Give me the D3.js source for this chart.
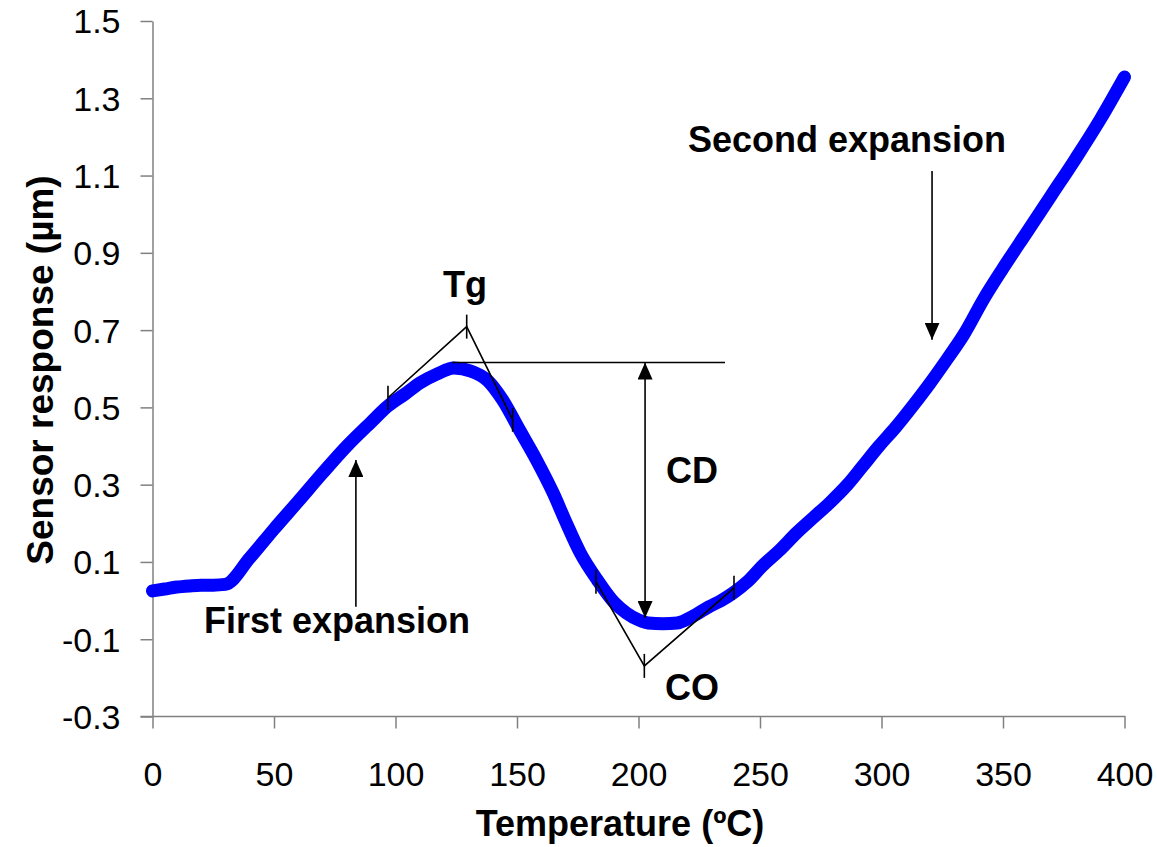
<!DOCTYPE html>
<html lang="en">
<head>
<meta charset="UTF-8">
<title>Sensor response vs temperature</title>
<script src="https://d3js.org/d3.v7.min.js"></script>
<style>
  body { margin: 0; background: #fff; }
  svg text { font-family: "Liberation Sans", Arial, sans-serif; }
</style>
</head>
<body>
<svg id="chart" width="1157" height="847"></svg>
<script>
// temperature (ºC) and sensor response (µm)
var temps = [0, 5, 10, 15, 20, 25, 30, 40, 50, 60, 70, 80, 90, 97, 104, 110, 117, 124,
             131, 138, 144, 151, 158, 165, 170, 176, 183, 190, 195, 200, 204, 210, 216,
             222, 229, 234, 239, 245, 251, 258, 265, 272, 279, 286, 292, 299, 306, 313,
             320, 327, 334, 342, 350, 360, 370, 380, 390, 400];
var response = [0.025, 0.03, 0.035, 0.038, 0.04, 0.04, 0.042, 0.11, 0.185, 0.257, 0.33, 0.40,
                0.462, 0.504, 0.535, 0.563, 0.586, 0.602, 0.594, 0.569, 0.52, 0.442, 0.364,
                0.277, 0.205, 0.124, 0.054, -0.005, -0.032, -0.05, -0.058, -0.06, -0.058,
                -0.042, -0.016, 0.0, 0.02, 0.05, 0.09, 0.13, 0.175, 0.215, 0.255, 0.30,
                0.346, 0.40, 0.45, 0.505, 0.563, 0.625, 0.69, 0.78, 0.86, 0.955, 1.05,
                1.145, 1.245, 1.355];

var xTicks = [0, 50, 100, 150, 200, 250, 300, 350, 400];
var yTicks = [-0.3, -0.1, 0.1, 0.3, 0.5, 0.7, 0.9, 1.1, 1.3, 1.5];
var yTickLabels = ["-0.3", "-0.1", "0.1", "0.3", "0.5", "0.7", "0.9", "1.1", "1.3", "1.5"];

// annotations, in data units
var tgLine = [[96.9, 0.525], [129.3, 0.709], [148.2, 0.468]];
var coLine = [[182.5, 0.049], [202.4, -0.169], [239.3, 0.033]];
var cdTop = [[123.3, 0.616], [235.6, 0.616]];
var cdArrow = [202.7, 0.616, -0.045];          // x, y1, y2
var firstArrow = [83.7, -0.016, 0.364];        // x, from, to
var secondArrow = [320.8, 1.112, 0.675];
var labels = [
    { text: "Tg", x: 128.6, y: 0.786 },
    { text: "CD", x: 222, y: 0.305 },
    { text: "CO", x: 222, y: -0.257 },
    { text: "First expansion", x: 75.9, y: -0.083 },
    { text: "Second expansion", x: 285.8, y: 1.161 }
];

var svg = d3.select("#chart");

var x = d3.scaleLinear().domain([0, 400]).range([152.5, 1124.5]);
var y = d3.scaleLinear().domain([-0.3, 1.5]).range([716.5, 21]);

// arrow head
svg.append("defs").append("marker")
    .attr("id", "head")
    .attr("viewBox", "0 -7.5 17 15")
    .attr("refX", 17)
    .attr("refY", 0)
    .attr("markerWidth", 17)
    .attr("markerHeight", 15)
    .attr("markerUnits", "userSpaceOnUse")
    .attr("orient", "auto-start-reverse")
    .append("path")
    .attr("d", "M0,-7.5L17,0L0,7.5Z")
    .attr("fill", "#000");

// axes
var xAxis = svg.append("g")
    .attr("transform", "translate(0," + y(-0.3) + ")")
    .call(d3.axisBottom(x).tickValues(xTicks).tickSize(12).tickSizeOuter(0));
xAxis.selectAll("text")
    .attr("y", 69).attr("dy", null)
    .attr("font-size", "34px").attr("fill", "#000");

var yAxis = svg.append("g")
    .attr("transform", "translate(" + x(0) + ",0)")
    .call(d3.axisLeft(y).tickValues(yTicks).tickSize(12).tickSizeOuter(0)
        .tickFormat(function(d, i) { return yTickLabels[i]; }));
yAxis.selectAll("text")
    .attr("x", -32).attr("dy", "0.35em")
    .attr("font-size", "34px").attr("fill", "#000");

svg.selectAll(".domain, .tick line")
    .attr("stroke", "#808080").attr("stroke-width", 1.5);
// x axis line runs under the left ticks too
xAxis.select(".domain").attr("d", "M" + (x(0) - 12) + ",0H" + (x(400) + 1));

// the curve
var pts = temps.map(function(t, i) { return [t, response[i]]; });
svg.append("path")
    .datum(pts)
    .attr("fill", "none")
    .attr("stroke", "#0000ff")
    .attr("stroke-width", 13)
    .attr("stroke-linecap", "round")
    .attr("stroke-linejoin", "round")
    .attr("d", d3.line().x(function(d) { return x(d[0]); }).y(function(d) { return y(d[1]); })
        .curve(d3.curveMonotoneX));

var ann = svg.append("g").attr("stroke", "#000").attr("stroke-width", 1.6).attr("fill", "none");
var poly = d3.line().x(function(d) { return x(d[0]); }).y(function(d) { return y(d[1]); });

[tgLine, coLine].forEach(function(l) {
    ann.append("path").attr("d", poly(l));
    l.forEach(function(p) {
        ann.append("line")
            .attr("x1", x(p[0])).attr("x2", x(p[0]))
            .attr("y1", y(p[1]) - 12).attr("y2", y(p[1]) + 12);
    });
});

ann.append("path").attr("d", poly(cdTop));
ann.append("line")
    .attr("x1", x(cdArrow[0])).attr("x2", x(cdArrow[0]))
    .attr("y1", y(cdArrow[1])).attr("y2", y(cdArrow[2]))
    .attr("marker-start", "url(#head)")
    .attr("marker-end", "url(#head)");

[firstArrow, secondArrow].forEach(function(a) {
    ann.append("line")
        .attr("x1", x(a[0])).attr("x2", x(a[0]))
        .attr("y1", y(a[1])).attr("y2", y(a[2]))
        .attr("marker-end", "url(#head)");
});

svg.selectAll(".lbl")
    .data(labels)
    .enter().append("text")
    .attr("class", "lbl")
    .attr("x", function(d) { return x(d.x); })
    .attr("y", function(d) { return y(d.y); })
    .attr("text-anchor", "middle")
    .attr("font-size", "36px")
    .attr("font-weight", "bold")
    .text(function(d) { return d.text; });

// axis titles
svg.append("text")
    .attr("x", 620).attr("y", 836)
    .attr("text-anchor", "middle")
    .attr("font-size", "36px").attr("font-weight", "bold")
    .text("Temperature (ºC)");

svg.append("text")
    .attr("transform", "translate(53,370) rotate(-90)")
    .attr("text-anchor", "middle")
    .attr("font-size", "37px").attr("font-weight", "bold")
    .text("Sensor response (µm)");
</script>
</body>
</html>
